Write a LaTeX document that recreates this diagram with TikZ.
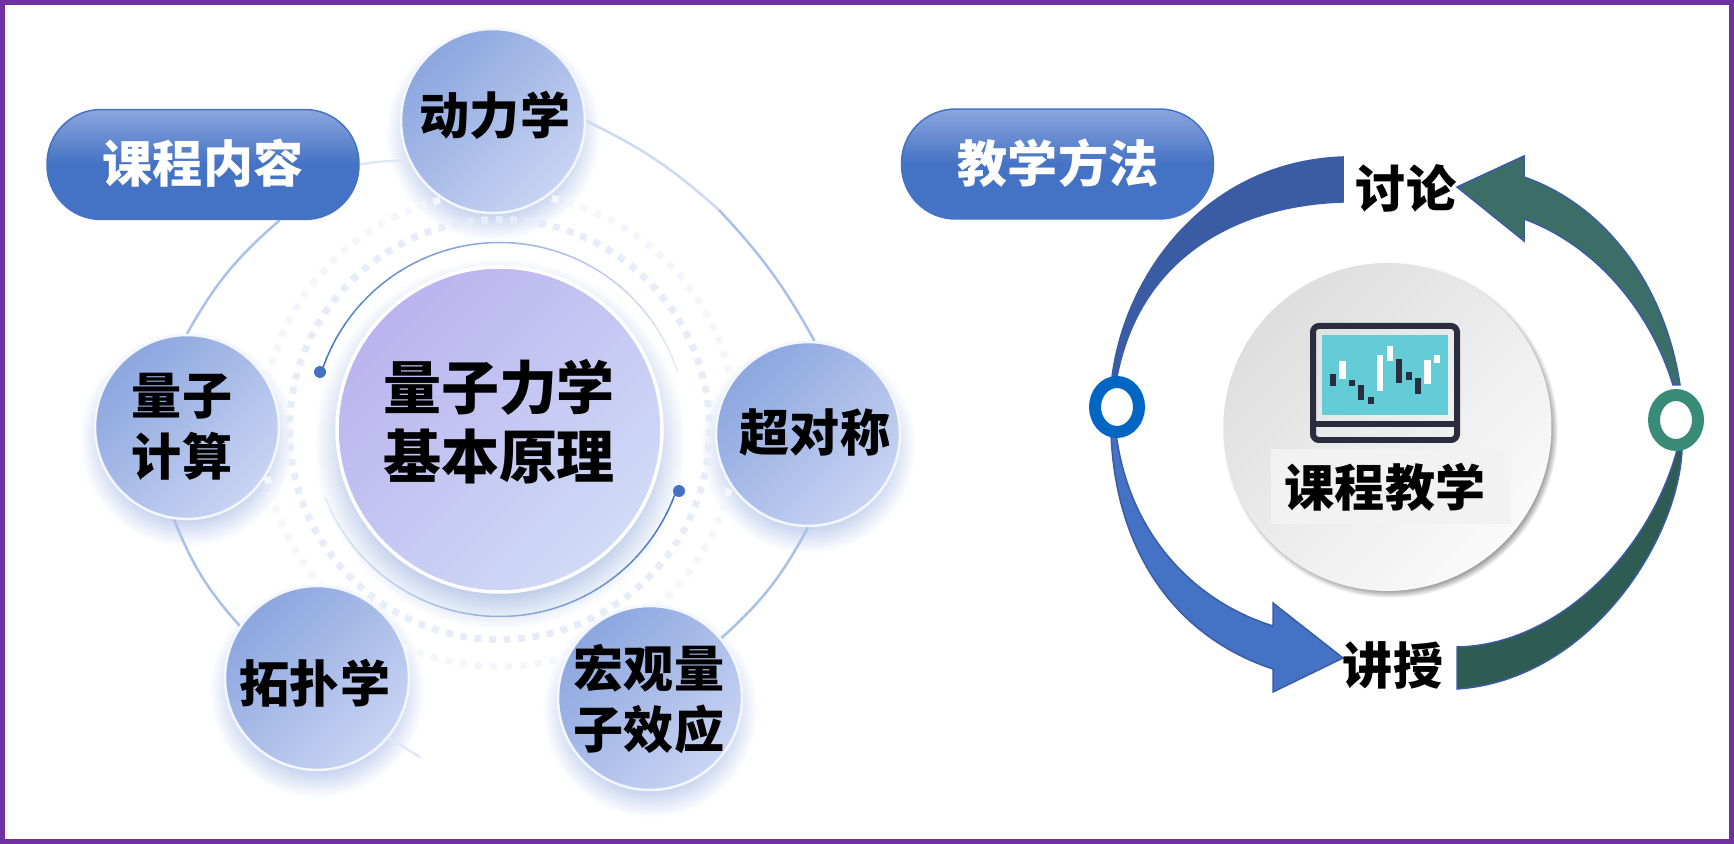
\documentclass[tikz,border=0pt]{standalone}
\usepackage{fontspec}
\setmainfont{Noto Sans CJK SC}
\usepackage{tikz}
\usetikzlibrary{calc, backgrounds, shapes.geometric}

\definecolor{framepurple}{HTML}{7030A0}
\definecolor{pillblue}{HTML}{4472C4}
\definecolor{pilltop}{HTML}{8CA6DE}
\definecolor{satdark}{HTML}{8CA6DF}
\definecolor{satlight}{HTML}{C8D4F3}
\definecolor{corelilac}{HTML}{BBB3EF}
\definecolor{corelight}{HTML}{D0DBF6}
\definecolor{orbitblue}{HTML}{A9C0E8}
\definecolor{orbitfaint}{HTML}{E0E8F7}
\definecolor{dashblue}{HTML}{E7EDF8}
\definecolor{dashfaint}{HTML}{F4F6FC}
\definecolor{coreshadow}{HTML}{B7C7E8}
\definecolor{satshadow}{HTML}{C6D3EF}
\definecolor{greyshadow}{HTML}{8A8A8A}
\definecolor{arrowdeep}{HTML}{3A5CA5}
\definecolor{arrowteal}{HTML}{3A6E66}
\definecolor{arrowpine}{HTML}{2E5B52}
\definecolor{ringblue}{HTML}{0066C4}
\definecolor{ringteal}{HTML}{3A8C78}
\definecolor{screencyan}{HTML}{64CCD6}
\definecolor{screenink}{HTML}{2A2D3E}

\pgfdeclareverticalshading{pillfade}{100bp}{color(0bp)=(pillblue); color(50bp)=(pillblue); color(75bp)=(pilltop); color(100bp)=(pilltop)}
\pgfdeclareradialshading{coreglow}{\pgfpoint{0bp}{0bp}}{color(0bp)=(coreshadow); color(19.5bp)=(coreshadow); color(25bp)=(white); color(100bp)=(white)}
\pgfdeclareradialshading{satglow}{\pgfpoint{0bp}{0bp}}{color(0bp)=(satshadow); color(18.5bp)=(satshadow); color(25bp)=(white); color(100bp)=(white)}
\pgfdeclareradialshading{greyglow}{\pgfpoint{0bp}{0bp}}{color(0bp)=(greyshadow); color(23.6bp)=(greyshadow); color(25bp)=(white); color(100bp)=(white)}

\begin{document}
\begin{tikzpicture}[
  x=0.02cm, y=-0.02cm,
  pill/.style={draw=pillblue, line width=0.03cm, rounded corners=1.08cm, minimum width=6.24cm, minimum height=2.2cm, shading=pillfade},
  sat/.style={circle, draw=white!90!satdark, line width=0.05cm, minimum size=3.68cm, inner sep=0pt, top color=satdark, bottom color=satlight, shading angle=45},
  core/.style={circle, draw=white, line width=0.07cm, minimum size=6.5cm, inner sep=0pt, top color=corelilac, bottom color=corelight, shading angle=45},
  hub/.style={circle, minimum size=6.56cm, inner sep=0pt, top color=black!13, bottom color=black!2, shading angle=45},
  txt/.style={font=\fontsize{28.5}{35}\selectfont\bfseries, align=center, inner sep=0pt},
  bigtxt/.style={font=\fontsize{33}{39.2}\selectfont\bfseries, align=center, inner sep=0pt},
  orbit/.style={draw=orbitblue, line width=0.05cm},
  tipdot/.style={circle, fill=pillblue, minimum size=0.24cm, inner sep=0pt},
  flow/.style={draw=arrowdeep, line width=0.03cm},
  ring/.style={ellipse, fill=white, line width=0.24cm, minimum width=0.88cm, minimum height=1cm, inner sep=0pt}
]
\useasboundingbox (0,0) rectangle (1734,844);

% Frame
\draw[framepurple, line width=0.1cm] (2.5,2.5) rectangle (1731.5,841.5);

% Course content, middle and satellites
\node[core] (core) at (499.5,429.5) {};
\node[sat] (dyn) at (493,121) {};
\node[sat] (quant) at (187,427) {};
\node[sat] (chao) at (808,434) {};
\node[sat] (topo) at (317,678) {};
\node[sat] (hong) at (650,698) {};
\node[pill] (course) at (203,164.5) {};

\node[bigtxt] (coretxt) at (499,422) {量子力学\\基本原理};
\node[txt] (dyntxt) at (495,115) {动力学};
\node[txt] (quanttxt) at (182,427) {量子\\计算};
\node[txt] (chaotxt) at (815,432) {超对称};
\node[txt] (topotxt) at (315,683) {拓扑学};
\node[txt] (hongtxt) at (649,699) {宏观量\\子效应};
\node[txt, white] (coursetxt) at (203,163) {课程内容};

\node[tipdot] (dotA) at (320,372) {};
\node[tipdot] (dotB) at (679,491) {};
\coordinate (orbitmid) at (719,210);
\coordinate (orbitend) at (420,757);

\begin{scope}[on background layer]
  % Soft shadows
  \shade[shading=coreglow] ($(core)+(0,14)$) circle (186);
  \foreach \sat in {dyn,quant,chao,topo,hong}
    \shade[shading=satglow] ($(\sat)+(0,12)$) circle (108);
  % Dotted rings
  \draw[dashfaint, line width=0.14cm, dash pattern=on 0.14cm off 0.16cm] (core) circle (237);
  \draw[dashblue, line width=0.14cm, dash pattern=on 0.14cm off 0.15cm] (core) circle (210);
  % Two arcs round the middle
  \foreach \a [evaluate=\a as \p using {100-(\a-198)*0.62}] in {198,202,...,338}
    \draw[pillblue!\p!white, line width=0.03cm] (core) ++(\a:187) arc[start angle=\a, delta angle=4.3, radius=187];
  \foreach \a [evaluate=\a as \p using {100-(18.6-\a)*(-0.62)}] in {18.6,22.6,...,158}
    \draw[pillblue!\p!white, line width=0.03cm] (core) ++(\a:187) arc[start angle=\a, delta angle=4.3, radius=187];
  % Orbit between satellites
  \draw[orbit, draw=orbitfaint] (dyn.205) to[bend right=4] (course.east);
  \draw[orbit] (course.-36) to[bend right=10] (quant.north);
  \draw[orbit, draw=orbitblue!60!white] (dyn.east) to[bend left=8] (orbitmid);
  \draw[orbit] (orbitmid) to[bend left=7] (chao.86);
  \draw[orbit] (chao.south) to[bend left=10] (hong.40);
  \draw[orbit] (quant.262) to[bend right=10] (topo.146);
  \draw[orbit, draw=orbitfaint] (topo.-40) -- (orbitend);
\end{scope}

% Teaching method
\node[pill] (method) at (1057.5,164) {};
\node[txt, white] (methodtxt) at (1058,163) {教学方法};

% Hub with monitor
\shade[shading=greyglow] (1390,430) circle (168);
\node[hub] (hub) at (1387.5,427) {};
\draw[screenink, line width=0.12cm, rounded corners=0.12cm] (1313,326) rectangle (1457,440);
\draw[screenink, line width=0.12cm] (1313,424) -- (1457,424);
\fill[screencyan] (1322,335) rectangle (1448,415);
\foreach \xa/\ya/\xb/\yb in {1330/374/1336/386, 1349/380/1355/386, 1358/385/1364/400, 1368/397/1374/404, 1396/359/1402/383, 1406/372/1412/380, 1415/378/1421/394}
  \fill[screenink] (\xa,\ya) rectangle (\xb,\yb);
\foreach \xa/\ya/\xb/\yb in {1339/361/1346/379, 1377/355/1383/391, 1387/346/1393/361, 1424/360/1431/384, 1434/355/1440/363}
  \fill[white] (\xa,\ya) rectangle (\xb,\yb);
\node[fill=black!5, minimum width=4.8cm, minimum height=1.5cm, inner sep=0pt] (hubbox) at (1391,486.5) {};
\node[txt] (hubtxt) at (1385,487) {课程教学};

% Four arrows
\filldraw[flow, fill=arrowdeep] (1112,377) .. controls (1125,275) and (1205,162) .. (1343,157) -- (1343,202) .. controls (1240,205) and (1140,255) .. (1117,377) -- cycle;
\filldraw[flow, fill=pillblue] (1111,433) .. controls (1115,545) and (1170,635) .. (1273,669) -- (1273,692) -- (1343,658) -- (1273,603) -- (1273,626) .. controls (1190,600) and (1128,530) .. (1116,433) -- cycle;
\filldraw[flow, fill=arrowteal] (1680,385) .. controls (1665,285) and (1605,205) .. (1524,177) -- (1524,156) -- (1457,187) -- (1524,241) -- (1524,219) .. controls (1595,245) and (1650,310) .. (1673,385) -- cycle;
\filldraw[flow, fill=arrowpine] (1682,450) .. controls (1678,540) and (1590,680) .. (1457,689) -- (1457,647) .. controls (1560,645) and (1650,550) .. (1677,450) -- cycle;

\node[ring, draw=ringblue] (ringA) at (1117,407) {};
\node[ring, draw=ringteal] (ringB) at (1676,420) {};

\node[txt] (talktxt) at (1406,188) {讨论};
\node[txt] (lecttxt) at (1393,665) {讲授};

\end{tikzpicture}
\end{document}
